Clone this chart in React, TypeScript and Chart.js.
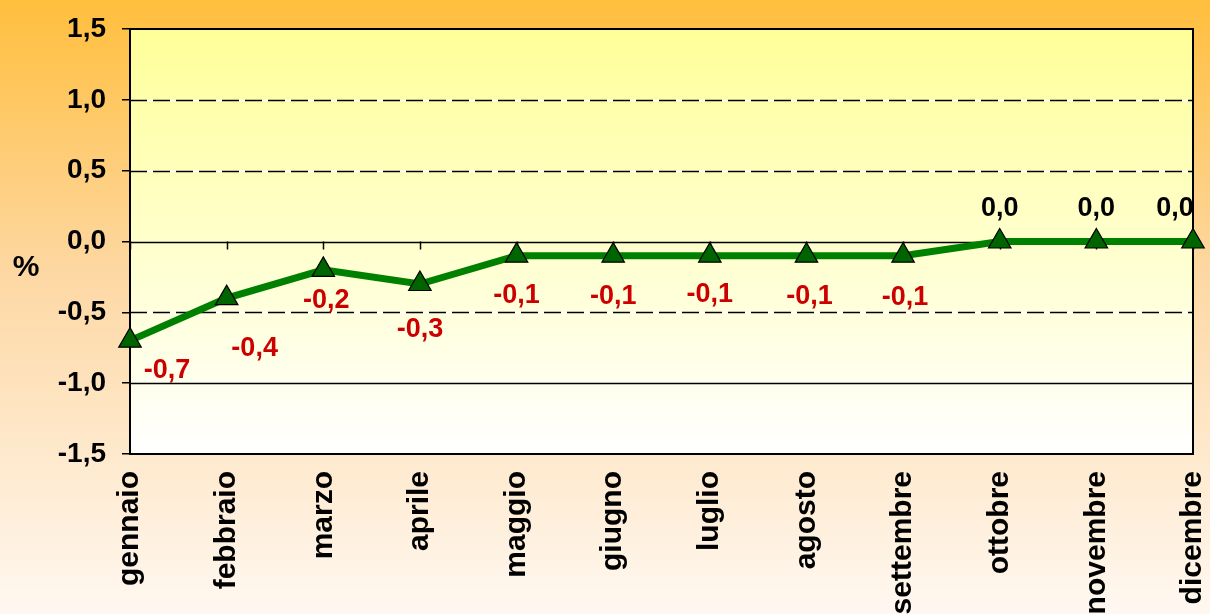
import React, { useEffect, useRef } from 'react';
import { Chart, registerables } from 'chart.js';

Chart.register(...registerables);

// ---- Data ----
const months = [
  'gennaio', 'febbraio', 'marzo', 'aprile', 'maggio', 'giugno',
  'luglio', 'agosto', 'settembre', 'ottobre', 'novembre', 'dicembre',
];
const values = [-0.7, -0.4, -0.2, -0.3, -0.1, -0.1, -0.1, -0.1, -0.1, 0.0, 0.0, 0.0];
const yMin = -1.5;
const yMax = 1.5;
const yStep = 0.5;
const dashedGridValues = [1.0, 0.5, -0.5];
const solidGridValues = [0.0, -1.0];

// label placement (style only): [dx, dy] from the point
const labelOffsets: [number, number][] = [
  [37, 30], [28, 50], [3, 31], [0, 46], [0, 40], [0, 41],
  [0, 39], [3, 41], [2, 42], [0, -33], [0, -33], [-18, -33],
];

const FONT = '"Liberation Sans", Arial, sans-serif';
const fmt = (v: number) => {
  const s = Math.abs(v) < 1e-9 ? '0.0' : v.toFixed(1);
  return s.replace('.', ',');
};

const decorPlugin = {
  id: 'decor',
  beforeDraw(chart: any) {
    const { ctx, width, height, chartArea: a } = chart;
    ctx.save();
    const g = ctx.createLinearGradient(0, 0, 0, height);
    g.addColorStop(0, '#FFBE3C');
    g.addColorStop(0.45, '#FDD8A4');
    g.addColorStop(1, '#FFF8F1');
    ctx.fillStyle = g;
    ctx.fillRect(0, 0, width, height);
    const g2 = ctx.createLinearGradient(0, a.top, 0, a.bottom);
    g2.addColorStop(0, '#FFFF99');
    g2.addColorStop(1, '#FFFFFF');
    ctx.fillStyle = g2;
    ctx.fillRect(a.left, a.top, a.right - a.left, a.bottom - a.top);
    // "%" title
    ctx.fillStyle = '#000';
    ctx.font = `bold 30px ${FONT}`;
    ctx.textAlign = 'center';
    ctx.textBaseline = 'middle';
    ctx.fillText('%', 26, 268);
    ctx.restore();
  },
  beforeDatasetsDraw(chart: any) {
    const { ctx, chartArea: a, scales } = chart;
    const ys = scales.y;
    const xs = scales.x;
    ctx.save();
    dashedGridValues.forEach((v) => {
      const py = Math.round(ys.getPixelForValue(v)) + 0.5;
      ctx.lineWidth = 1.5;
      ctx.setLineDash([]);
      ctx.strokeStyle = '#FFFFFF';
      ctx.beginPath(); ctx.moveTo(a.left, py); ctx.lineTo(a.right, py); ctx.stroke();
      ctx.setLineDash([17, 6]);
      ctx.strokeStyle = '#000000';
      ctx.beginPath(); ctx.moveTo(a.left, py); ctx.lineTo(a.right, py); ctx.stroke();
    });
    ctx.setLineDash([]);
    solidGridValues.forEach((v) => {
      const py = Math.round(ys.getPixelForValue(v)) + 0.5;
      ctx.lineWidth = 1.5;
      ctx.strokeStyle = '#000000';
      ctx.beginPath(); ctx.moveTo(a.left, py); ctx.lineTo(a.right, py); ctx.stroke();
    });
    // tick marks on the zero line
    const zy = ys.getPixelForValue(0);
    ctx.lineWidth = 1.5;
    months.forEach((_, i) => {
      const px = Math.round(xs.getPixelForValue(i)) + 0.5;
      ctx.beginPath(); ctx.moveTo(px, zy); ctx.lineTo(px, zy + 8); ctx.stroke();
    });
    // plot border
    ctx.lineWidth = 2;
    ctx.strokeRect(a.left, a.top, a.right - a.left, a.bottom - a.top);
    ctx.restore();
  },
  afterDatasetsDraw(chart: any) {
    const { ctx } = chart;
    const meta = chart.getDatasetMeta(0);
    ctx.save();
    ctx.font = `bold 27px ${FONT}`;
    ctx.textAlign = 'center';
    ctx.textBaseline = 'middle';
    meta.data.forEach((pt: any, i: number) => {
      const v = values[i];
      const [dx, dy] = labelOffsets[i];
      ctx.fillStyle = v < 0 ? '#CC0000' : '#000000';
      ctx.fillText(fmt(v), pt.x + dx, pt.y + dy);
    });
    ctx.restore();
  },
};

export default function App() {
  const ref = useRef<HTMLCanvasElement>(null);
  useEffect(() => {
    document.body.style.margin = '0';
    const chart = new Chart(ref.current!, {
      type: 'line',
      data: {
        labels: months,
        datasets: [{
          data: values,
          borderColor: '#008000',
          borderWidth: 7,
          pointStyle: 'triangle',
          pointRadius: 13,
          pointBackgroundColor: '#006400',
          pointBorderColor: '#000000',
          pointBorderWidth: 1.2,
          tension: 0,
          clip: false as any,
        }],
      },
      options: {
        animation: false,
        responsive: false,
        maintainAspectRatio: false,
        devicePixelRatio: 1,
        layout: { padding: { top: 29, right: 17, left: 0, bottom: 0 } },
        plugins: { legend: { display: false }, tooltip: { enabled: false } },
        scales: {
          x: {
            type: 'category',
            offset: false,
            grid: { drawOnChartArea: false, drawTicks: false },
            border: { display: true, color: '#000', width: 2 },
            ticks: {
              autoSkip: false,
              minRotation: 90,
              maxRotation: 90,
              padding: 17,
              color: '#000',
              font: { family: FONT, size: 30, weight: 'bold' },
            },
            afterFit: (s: any) => {
              s.height = 160;
              s.paddingRight = 0;
              s.paddingLeft = 0;
            },
          },
          y: {
            min: yMin,
            max: yMax,
            grid: { drawOnChartArea: false, drawTicks: true, tickLength: 8, color: '#000', lineWidth: 1.5 },
            border: { display: true, color: '#000', width: 2 },
            ticks: {
              stepSize: yStep,
              padding: 16,
              color: '#000',
              font: { family: FONT, size: 28, weight: 'bold' },
              callback: (v: any) => fmt(Number(v)),
            },
            afterFit: (s: any) => {
              s.width = 130;
              s.paddingTop = 0;
              s.paddingBottom = 0;
            },
          },
        },
      },
      plugins: [decorPlugin],
    });
    return () => chart.destroy();
  }, []);
  return (
    <div style={{ position: 'absolute', left: 0, top: 0, width: 1210, height: 614 }}>
      <canvas ref={ref} width={1210} height={614} style={{ display: 'block', width: 1210, height: 614 }} />
    </div>
  );
}
